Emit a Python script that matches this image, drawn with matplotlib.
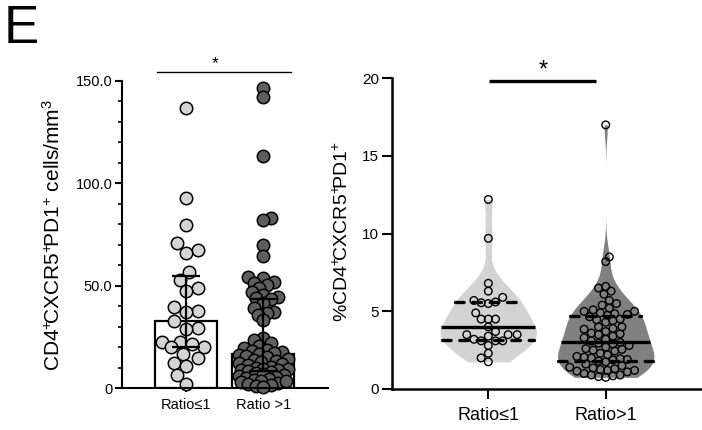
import numpy as np
import matplotlib
matplotlib.use("Agg")
import matplotlib.pyplot as plt

plt.rcParams['font.family'] = ['Liberation Sans', 'DejaVu Sans']
plt.rcParams['mathtext.default'] = 'regular'

# ---------------- data ----------------
categories_left = ["Ratio\u22641", "Ratio >1"]
categories_right = ["Ratio\u22641", "Ratio>1"]

counts_ratio_le1 = [136.7, 92.9, 79.6, 71.0, 67.4, 66.1, 56.8, 52.8, 48.7, 47.5,
                    39.7, 37.8, 37.1, 32.6, 29.2, 29.0, 22.6, 22.3, 21.5, 19.9,
                    19.9, 16.6, 14.7, 12.0, 10.9, 6.2, 1.8]
counts_ratio_gt1 = [146.4, 142.3, 113.4, 82.9, 82.0, 69.9, 64.5, 54.2, 53.7, 51.9,
                    51.3, 50.3, 48.7, 47.0, 45.4, 44.6, 43.8, 43.6, 41.4, 38.9,
                    37.3, 36.5, 35.7, 33.2, 24.3, 23.4, 21.8, 20.5, 19.5, 18.6,
                    18.0, 17.5, 17.0, 16.8, 16.0, 15.5, 15.0, 14.0, 13.5, 13.0,
                    12.5, 12.0, 11.5, 11.0, 10.5, 10.0, 9.5, 9.2, 9.0, 8.8,
                    8.5, 8.0, 7.5, 7.0, 6.5, 6.0, 5.5, 5.0, 4.5, 4.0,
                    3.5, 3.0, 2.5, 2.0, 1.5, 1.2, 0.5, 3.2]

pct_ratio_le1 = [12.2, 9.7, 6.8, 6.3, 5.9, 5.7, 5.6, 5.5, 4.9, 4.5,
                 4.5, 4.5, 4.0, 3.7, 3.5, 3.5, 3.4, 3.5, 3.1, 3.1,
                 3.1, 3.2, 2.8, 2.3, 2.0, 1.75, 5.55]
pct_ratio_gt1 = [17.0, 8.5, 8.2, 6.6, 6.5, 6.3, 6.1, 5.7, 5.5, 5.4,
                 5.2, 5.1, 5.0, 5.0, 4.9, 4.85, 4.8, 4.75,
                 4.65, 4.5, 4.45, 4.4, 4.3, 4.0, 4.0, 3.9, 3.85, 3.7,
                 3.6, 3.55, 3.5, 3.4, 3.3, 3.2, 3.1,
                 3.0, 2.95, 2.9, 2.8, 2.7, 2.6, 2.55, 2.5, 2.45, 2.3,
                 2.2, 2.1, 2.05, 2.0, 1.95, 1.9, 1.88,
                 1.8, 1.75, 1.6, 1.5, 1.4, 1.35, 1.3, 1.25, 1.2, 1.2,
                 1.15, 1.1, 1.0, 0.9, 0.9, 0.85, 0.8, 0.75]

left_yticks = [0, 50, 100, 150]
left_yticklabels = ["0", "50.0", "100.0", "150.0"]
right_yticks = [0, 5, 10, 15, 20]

light = '#d4d4d4'
dark = '#5e5e5e'
violin_light = '#d3d3d3'
violin_dark = '#808080'

# ---------------- helpers ----------------
def swarm(ax, values, center, d_px, halfwidth_px_fn, step_frac=0.25):
    values = np.asarray(values, float)
    p0 = ax.transData.transform((0, 0))
    p1 = ax.transData.transform((1, 1))
    sx, sy = p1[0] - p0[0], p1[1] - p0[1]
    order = np.argsort(values)
    placed = []
    xs = np.zeros(len(values))
    step = d_px * step_frac
    for k, i in enumerate(order):
        y = values[i] * sy
        lim = halfwidth_px_fn(values[i])
        nmax = int(lim // step)
        sign = 1 if k % 2 == 0 else -1
        cands = [0.0]
        for j in range(1, nmax + 1):
            cands += [sign * j * step, -sign * j * step]
        best, bestpen = 0.0, np.inf
        for c in cands:
            pen = 0.0
            for (px, py) in placed:
                dist = np.hypot(c - px, y - py)
                if dist < d_px:
                    pen += d_px - dist
            if pen == 0:
                best = c
                break
            if pen < bestpen - 1e-9:
                best, bestpen = c, pen
        placed.append((best, y))
        xs[i] = center + best / sx
    return xs


def kde(data, grid, factor=1.0):
    data = np.asarray(data, float)
    n = len(data)
    bw = factor * data.std(ddof=1) * n ** (-0.2)
    z = (grid[:, None] - data[None, :]) / bw
    return np.exp(-0.5 * z ** 2).sum(axis=1) / (n * bw * np.sqrt(2 * np.pi))


# ---------------- figure ----------------
fig = plt.figure(figsize=(7.02, 4.30), dpi=100)
W, H = 702, 430

# Left panel
axL = fig.add_axes([122 / W, 42 / H, 206 / W, 307 / H])
axL.set_xlim(-0.83, 1.84)
axL.set_ylim(0, 150)
for s in ['top', 'right']:
    axL.spines[s].set_visible(False)
for s in ['left', 'bottom']:
    axL.spines[s].set_linewidth(1.5)

left_groups = [counts_ratio_le1, counts_ratio_gt1]
left_colors = [light, dark]
swarm_d = [12.0, 7.5]
for i, vals in enumerate(left_groups):
    vals = np.asarray(vals)
    med = np.median(vals)
    q1, q3 = np.percentile(vals, [25, 75])
    axL.bar(i, med, width=0.8, color='white', edgecolor='black', linewidth=1.6, zorder=1)
    xs = swarm(axL, vals, i, swarm_d[i], lambda v: 26.0)
    axL.scatter(xs, vals, s=80, facecolor=left_colors[i], edgecolor='black',
                linewidth=1.1, zorder=2, clip_on=False)
    axL.errorbar(i, med, yerr=[[med - q1], [q3 - med]], fmt='none', ecolor='black',
                 elinewidth=1.6, capsize=10, capthick=1.6, zorder=3)

axL.set_xticks([0, 1])
axL.set_xticklabels(categories_left, fontsize=10.5)
axL.set_yticks(left_yticks)
axL.set_yticklabels(left_yticklabels, fontsize=10.5)
axL.set_yticks(np.arange(0, 151, 10), minor=True)
axL.tick_params(axis='y', which='major', length=5, width=1.5, pad=2)
axL.tick_params(axis='y', which='minor', length=3, width=1.2)
axL.tick_params(axis='x', length=3, width=1.2, pad=4)

axL.plot([-0.38, 1.36], [154.4, 154.4], color='black', lw=1.0, clip_on=False)
axL.text(0.38, 154.6, '*', ha='center', va='bottom', fontsize=12.5)

fig.text(53 / W, 1 - 235 / H,
         r'CD4$^{+}\!$CXCR5$^{+}\!$PD1$^{+}$ cells/mm$^{3}$',
         rotation=90, ha='center', va='center', fontsize=15)

# Right panel
axR = fig.add_axes([391.7 / W, 41 / H, 310.3 / W, 310.7 / H])
axR.set_xlim(-0.823, 1.82)
axR.set_ylim(0, 20)
for s in ['top', 'right']:
    axR.spines[s].set_visible(False)
for s in ['left', 'bottom']:
    axR.spines[s].set_linewidth(1.8)

right_groups = [pct_ratio_le1, pct_ratio_gt1]
violin_colors = [violin_light, violin_dark]
maxhalf = 0.41
for i, vals in enumerate(right_groups):
    vals = np.asarray(vals)
    grid = np.linspace(vals.min(), vals.max(), 400)
    dens = kde(vals, grid, 0.85)
    half = dens / dens.max() * maxhalf
    axR.fill_betweenx(grid, i - half, i + half, color=violin_colors[i], lw=0, zorder=1)
    med = np.median(vals)
    q1, q3 = np.percentile(vals, [25, 75])
    for q, style in [(med, '-'), (q1, '--'), (q3, '--')]:
        hw = np.interp(q, grid, half)
        if style == '-':
            axR.plot([i - hw, i + hw], [q, q], color='black', lw=2.4, zorder=2,
                     solid_capstyle='butt')
        else:
            axR.plot([i - hw, i + hw], [q, q], color='black', lw=2.4, zorder=2,
                     dashes=(2.6, 2.6), dash_capstyle='round')
    p0 = axR.transData.transform((0, 0))
    p1 = axR.transData.transform((1, 1))
    sxp = p1[0] - p0[0]
    hw_fn = lambda v, g=grid, h=half: max(float(np.interp(v, g, h)) * sxp, 4.0)
    xs = swarm(axR, vals, i, 7.2, hw_fn)
    axR.scatter(xs, vals, s=30, facecolor='none', edgecolor='black', linewidth=1.0,
                zorder=3, clip_on=False)

axR.set_xticks([0, 1])
axR.set_xticklabels(categories_right, fontsize=13)
axR.set_yticks(right_yticks)
axR.tick_params(axis='y', labelsize=11, length=7, width=1.5, pad=2)
axR.tick_params(axis='x', length=7, width=1.5, pad=6)

axR.plot([0.006, 0.92], [19.8, 19.8], color='black', lw=2.4, clip_on=False,
         solid_capstyle='butt')
axR.text(0.466, 19.8, '*', ha='center', va='bottom', fontsize=17)

fig.text(342 / W, 1 - 232 / H, r'%CD4$^{+}\!$CXCR5$^{+}\!$PD1$^{+}$',
         rotation=90, ha='center', va='center', fontsize=14)

fig.text(4 / W, 1 - 4 / H, 'E', ha='left', va='top', fontsize=38)

fig.savefig('out.png', dpi=100, facecolor='white')
